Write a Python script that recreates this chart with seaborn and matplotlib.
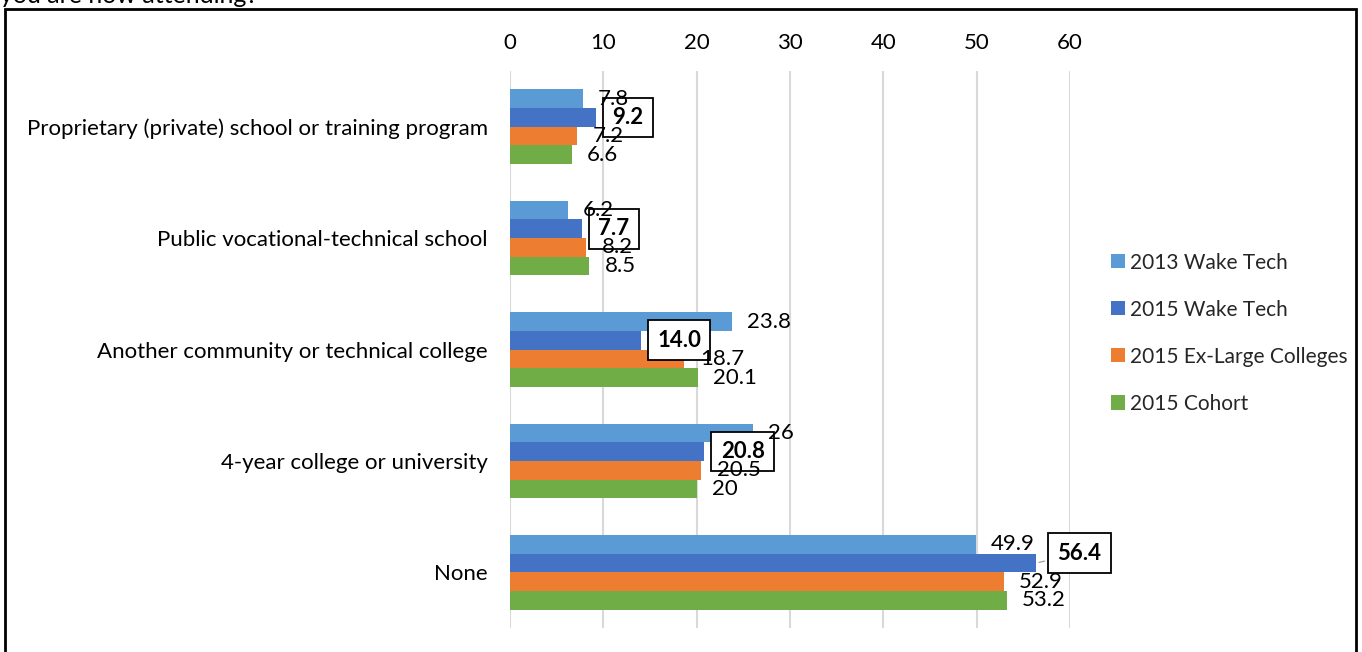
import matplotlib

matplotlib.use("Agg")

import matplotlib.pyplot as plt
import pandas as pd
import seaborn as sns
from matplotlib.patches import Rectangle

categories = [
    "Proprietary (private) school or training program",
    "Public vocational-technical school",
    "Another community or technical college",
    "4-year college or university",
    "None",
]
series = ["2013 Wake Tech", "2015 Wake Tech", "2015 Ex-Large Colleges", "2015 Cohort"]
wake_2013 = [7.8, 6.2, 23.8, 26, 49.9]
wake_2015 = [9.2, 7.7, 14.0, 20.8, 56.4]
exlarge_2015 = [7.2, 8.2, 18.7, 20.5, 52.9]
cohort_2015 = [6.6, 8.5, 20.1, 20, 53.2]
colors = ["#5B9BD5", "#4472C4", "#ED7D31", "#70AD47"]
x_ticks = [0, 10, 20, 30, 40, 50, 60]

values = [wake_2013, wake_2015, exlarge_2015, cohort_2015]
df = pd.DataFrame(
    [(c, s, v) for s, vals in zip(series, values) for c, v in zip(categories, vals)],
    columns=["category", "series", "value"],
)

sns.set_theme(style="white")
plt.rcParams["font.family"] = ["Lato", "DejaVu Sans"]
fs = 16

fig = plt.figure(figsize=(13.62, 6.52), dpi=100)
ax = fig.add_axes([0.3744, 0.0368, 0.4112, 0.8542])

sns.barplot(
    data=df, y="category", x="value", hue="series",
    order=categories, hue_order=series, palette=colors,
    orient="h", width=0.67, saturation=1, linewidth=0, ax=ax, legend=True,
)

ax.set_xlim(0, 60)
ax.set_xticks(x_ticks)
ax.xaxis.tick_top()
ax.tick_params(axis="x", length=0, labelsize=fs, pad=13, colors="black")
ax.tick_params(axis="y", length=0, labelsize=fs, pad=16, colors="black")
ax.set_xlabel("")
ax.set_ylabel("")
ax.grid(axis="x", color="#D9D9D9", linewidth=1.5)
ax.set_axisbelow(True)
for sp in ax.spines.values():
    sp.set_visible(False)

# 2015 Wake Tech labels get a bold boxed callout, the rest plain text
box = dict(boxstyle="square,pad=0.42", fc="white", ec="black", lw=1.3)
for i, cont in enumerate(ax.containers):
    for bar, v in zip(cont, values[i]):
        x = bar.get_x() + bar.get_width()
        y = bar.get_y() + bar.get_height() / 2
        if i == 1:
            if v > 50:
                ax.annotate(
                    f"{v:.1f}", xy=(x, y), xytext=(15, 7), textcoords="offset points",
                    ha="left", va="center", fontsize=fs, fontweight="bold", color="black",
                    bbox=box, arrowprops=dict(arrowstyle="-", color="#A6A6A6", lw=1),
                    annotation_clip=False, zorder=4,
                )
            else:
                ax.annotate(
                    f"{v:.1f}", xy=(x, y), xytext=(12, 0), textcoords="offset points",
                    ha="left", va="center", fontsize=fs, fontweight="bold", color="black",
                    bbox=box, zorder=4,
                )
        else:
            ax.annotate(
                f"{v:g}", xy=(x, y), xytext=(11, 0), textcoords="offset points",
                ha="left", va="center", fontsize=fs, color="black", zorder=5,
                annotation_clip=False,
            )

handles, labels = ax.get_legend_handles_labels()
ax.legend(
    handles, labels, loc="center left", bbox_to_anchor=(1092 / 1362, 0.489),
    bbox_transform=fig.transFigure, frameon=False, fontsize=15,
    handlelength=0.67, handleheight=0.67, handletextpad=0.27, labelspacing=1.3,
)

fig.text(0.0, 1 - 3 / 652, "you are now attending?", fontsize=18, ha="left",
         va="baseline", color="black")
fig.patches.append(Rectangle((5 / 1362, -0.05), 1351 / 1362, 1.05 - 9 / 652,
                             transform=fig.transFigure, fill=False, ec="black", lw=2))

fig.savefig("out.png", dpi=100)
plt.close(fig)
